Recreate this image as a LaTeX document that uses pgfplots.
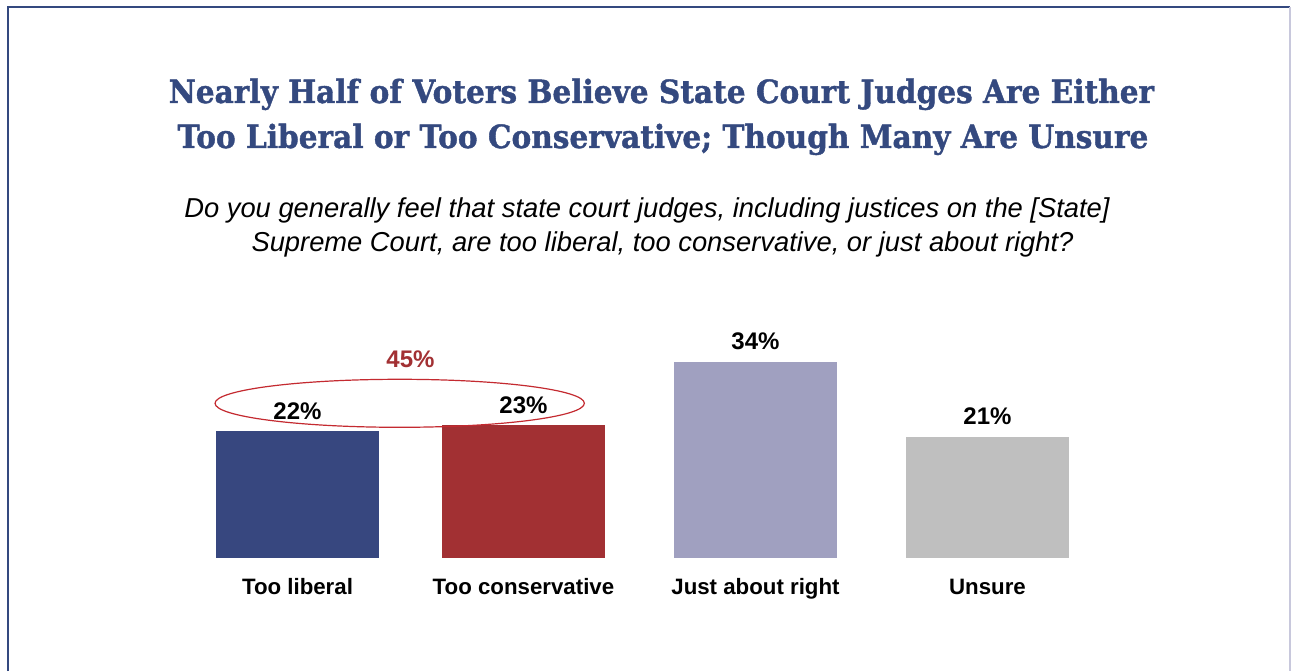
\documentclass[border=0pt]{standalone}
\usepackage{pgfplots}
\pgfplotsset{compat=1.18}
\usepackage{fontspec}
\setmainfont{Liberation Sans}
\newfontfamily\titlefont{DejaVu Serif}[BoldFeatures={FakeBold=1.3}]
\definecolor{navy}{HTML}{37477F}
\definecolor{crimson}{HTML}{A23033}
\definecolor{lav}{HTML}{A0A0C0}
\definecolor{lgray}{HTML}{BFBFBF}
\definecolor{titleblue}{HTML}{34497F}
\definecolor{ellred}{HTML}{C42A30}
\definecolor{edge}{HTML}{C8C8DC}
\begin{document}
\begin{tikzpicture}
\begin{scope}[x=0.75pt,y=0.75pt]
\path[use as bounding box] (0,0) rectangle (1291,671);
\fill[white] (0,0) rectangle (1291,671);
\draw[titleblue, line width=1.6pt] (8,0) -- (8,664) -- (1290,664);
\draw[edge, line width=0.8pt] (1290,664) -- (1290,0);
% title
\node[font=\titlefont\bfseries\fontsize{22.2pt}{24pt}\selectfont, text=titleblue, anchor=base, yscale=1.08] at (661.5,568) {Nearly Half of Voters Believe State Court Judges Are Either};
\node[font=\titlefont\bfseries\fontsize{22.2pt}{24pt}\selectfont, text=titleblue, anchor=base, yscale=1.08] at (663,523) {Too Liberal or Too Conservative; Though Many Are Unsure};
% subtitle
\node[font=\itshape\fontsize{20.5pt}{22pt}\selectfont, anchor=base] at (647,453) {Do you generally feel that state court judges, including justices on the [State]};
\node[font=\itshape\fontsize{20.5pt}{22pt}\selectfont, anchor=base] at (662.5,419) {Supreme Court, are too liberal, too conservative, or just about right?};
\end{scope}
\begin{axis}[
  at={(150pt,84.75pt)}, anchor=south west,
  scale only axis, width=675pt, height=193.5pt,
  xmin=-0.4203, xmax=3.459, ymin=0, ymax=44.71,
  axis line style={draw=none}, tick style={draw=none},
  ymajorticks=false,
  xtick={0,0.974,1.974,2.974},
  xticklabels={Too liberal,Too conservative,Just about right,Unsure},
  xticklabel style={font=\bfseries\fontsize{16.7pt}{19pt}\selectfont, anchor=base, yshift=-23pt},
  ybar, bar width=122.25pt, bar shift=0pt,
  clip=false,
  nodes near coords={\pgfmathprintnumber[assume math mode=true]{\pgfplotspointmeta}\%},
  every node near coord/.append style={font=\bfseries\fontsize{18pt}{20pt}\selectfont, text=black, anchor=base, yshift=9pt},
]
\addplot[fill=navy, draw=none] coordinates {(0,22)};
\addplot[fill=crimson, draw=none] coordinates {(0.974,23)};
\addplot[fill=lav, draw=none] coordinates {(1.974,34)};
\addplot[fill=lgray, draw=none] coordinates {(2.974,21)};
\end{axis}
\begin{scope}[x=0.75pt,y=0.75pt]
\draw[ellred, line width=0.9pt] (399.7,267.7) ellipse [x radius=138.5pt, y radius=18pt];
\node[font=\bfseries\fontsize{18pt}{20pt}\selectfont, text=crimson, anchor=base] at (410.5,303.7) {45\%};
\end{scope}
\end{tikzpicture}
\end{document}
